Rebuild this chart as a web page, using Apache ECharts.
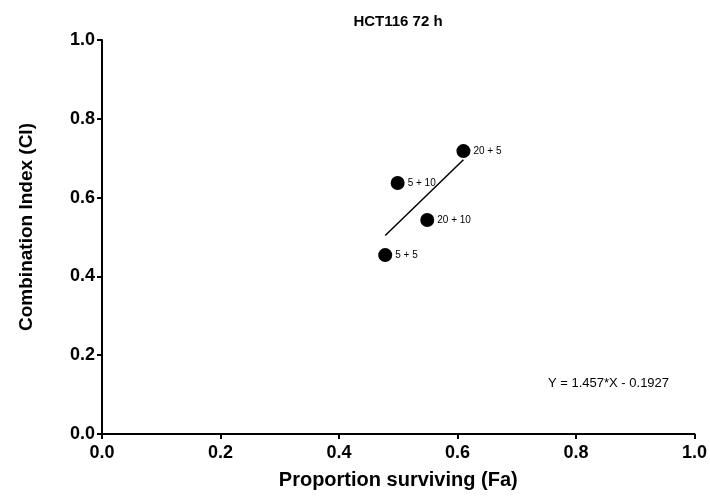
<!DOCTYPE html>
<html>
<head>
<meta charset="utf-8">
<script src="https://cdn.jsdelivr.net/npm/echarts@6/dist/echarts.min.js"></script>
<style>
  html, body { margin: 0; padding: 0; background: #fff; }
  #chart { width: 710px; height: 499px; }
</style>
</head>
<body>
<div id="chart"></div>
<script>
// combination points (Fa, CI)
const comboNames = ["5 + 5", "5 + 10", "20 + 10", "20 + 5"];
const faValues = [0.478, 0.499, 0.549, 0.610];
const ciValues = [0.454, 0.637, 0.543, 0.718];

// regression line ends, Y = 1.457*X - 0.1927
const fitX = [0.478, 0.610];
const fitY = [0.504, 0.696];
const fitLabel = "Y = 1.457*X - 0.1927";

const tickLabels = ["0.0", "0.2", "0.4", "0.6", "0.8", "1.0"];

const chart = echarts.init(document.getElementById("chart"));
const font = "Liberation Sans, Arial, sans-serif";

const axisCommon = {
    type: "value",
    min: 0,
    max: 1,
    interval: 0.2,
    axisLine: { show: true, lineStyle: { color: "#000", width: 2 } },
    axisTick: { show: true, length: 5, lineStyle: { color: "#000", width: 2 } },
    splitLine: { show: false },
    axisLabel: {
        color: "#000",
        fontFamily: font,
        fontWeight: "bold",
        fontSize: 18,
        formatter: (v) => tickLabels[Math.round(v * 5)],
    },
    nameLocation: "middle",
};

const option = {
    animation: false,
    title: {
        text: "HCT116 72 h",
        left: 393,
        top: 9,
        textAlign: "center",
        textStyle: { fontFamily: font, fontWeight: "bold", fontSize: 15, color: "#000" },
    },
    grid: { left: 102, right: 15, top: 40, bottom: 65 },
    xAxis: Object.assign({}, axisCommon, {
        name: "Proportion surviving (Fa)",
        nameGap: 36,
        nameTextStyle: { color: "#000", fontFamily: font, fontWeight: "bold", fontSize: 20 },
        axisLabel: Object.assign({}, axisCommon.axisLabel, { margin: 10 }),
    }),
    yAxis: Object.assign({}, axisCommon, {
        name: "Combination Index (CI)",
        nameGap: 66,
        nameTextStyle: {
            color: "#000", fontFamily: font, fontWeight: "bold", fontSize: 19,
            padding: [0, 0, 0, 20],
        },
        axisLabel: Object.assign({}, axisCommon.axisLabel, { margin: 7 }),
    }),
    graphic: [{
        type: "text",
        left: 548,
        top: 377,
        style: { text: fitLabel, fontFamily: font, fontSize: 13, fill: "#000" },
    }],
    series: [
        {
            type: "line",
            data: fitX.map((x, i) => [x, fitY[i]]),
            showSymbol: false,
            lineStyle: { color: "#000", width: 1.5 },
            z: 1,
        },
        {
            type: "scatter",
            data: comboNames.map((n, i) => ({ name: n, value: [faValues[i], ciValues[i]] })),
            symbolSize: 14,
            itemStyle: { color: "#000", opacity: 1 },
            label: {
                show: true,
                position: "right",
                distance: 3,
                formatter: (p) => p.name,
                color: "#000",
                fontFamily: font,
                fontSize: 10,
            },
            z: 2,
        },
    ],
};

chart.setOption(option);
</script>
</body>
</html>
